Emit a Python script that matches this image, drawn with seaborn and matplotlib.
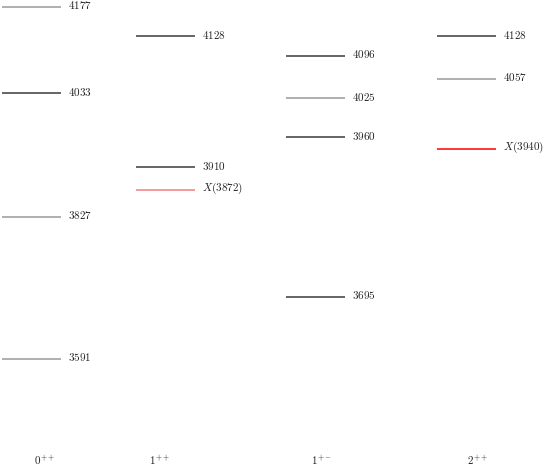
import pandas as pd
import matplotlib
matplotlib.use("Agg")
import matplotlib.pyplot as plt
import seaborn as sns

# spectrum data: one row per level
state = ["0++", "0++", "0++", "0++",
         "1++", "1++", "1++",
         "1+-", "1+-", "1+-", "1+-",
         "2++", "2++", "2++"]
mass = [4177, 4033, 3827, 3591,
        4128, 3910, 3872,
        4096, 4025, 3960, 3695,
        4128, 4057, 3940]
kind = ["gray", "dark", "gray", "gray",
        "dark", "dark", "x_pale",
        "dark", "gray", "dark", "dark",
        "dark", "gray", "x"]

state_tex = {"0++": r"$0^{++}$", "1++": r"$1^{++}$",
             "1+-": r"$1^{+-}$", "2++": r"$2^{++}$"}
state_order = ["0++", "1++", "1+-", "2++"]

# layout of the columns (left edge of each level bar, label position)
col_start = [0.0, 0.89, 1.887, 2.89]
label_pos = [0.28, 1.05, 2.125, 3.16]
bar_width = 0.39

colors = {"dark": "#3a3a3a", "gray": "#9a9a9a",
          "x": "#ff0000", "x_pale": "#f08080"}

df = pd.DataFrame({"state": state, "mass": mass, "kind": kind})

sns.set_theme(style="white")
plt.rcParams["mathtext.fontset"] = "cm"

fig = plt.figure(figsize=(5.45, 4.69), dpi=100)
ax = fig.add_axes([0, 0, 1, 1])

for _, row in df.iterrows():
    i = state_order.index(row["state"])
    x0 = col_start[i]
    ax.hlines(row["mass"], x0, x0 + bar_width, color=colors[row["kind"]], lw=1.1)
    if row["kind"].startswith("x"):
        lab = r"$X(%d)$" % row["mass"]
    else:
        lab = r"$%d$" % row["mass"]
    ax.text(x0 + bar_width + 0.05, row["mass"] + 3, lab, fontsize=8,
            ha="left", va="center", color="#222222")

for i, s in enumerate(state_order):
    ax.text(label_pos[i], 0.017, state_tex[s], transform=ax.get_xaxis_transform(),
            fontsize=8, ha="center", va="center", color="#222222")

ax.set_xlim(-0.0133, 3.608)
ax.set_ylim(3407.9, 4188.65)
ax.set_xticks([])
ax.set_yticks([])
sns.despine(ax=ax, left=True, bottom=True)

fig.savefig("out.png", dpi=100)
